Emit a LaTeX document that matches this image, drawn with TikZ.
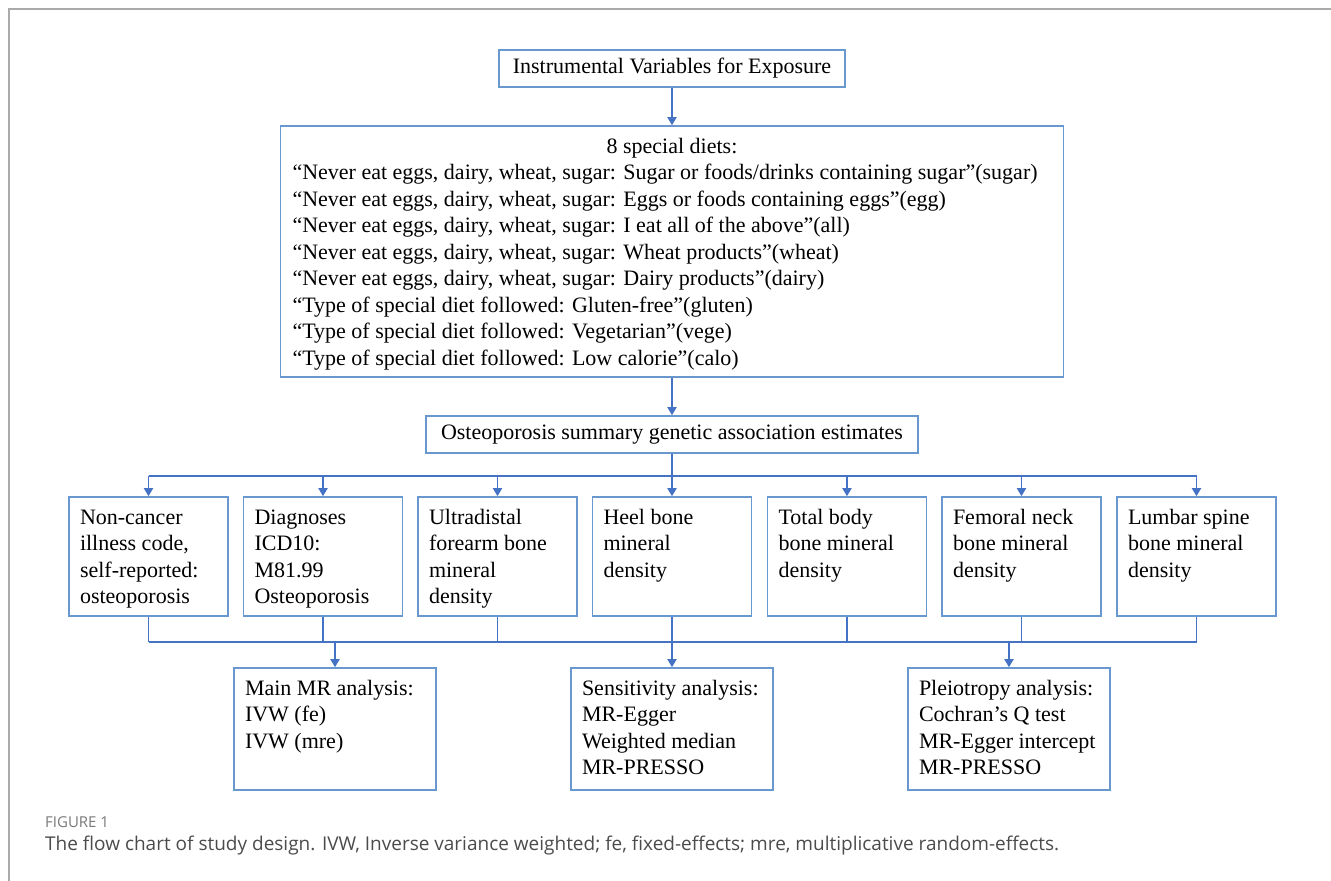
\documentclass[tikz,border=0pt]{standalone}
\usepackage{fontspec}
\setmainfont{Liberation Serif}
\newfontfamily\capfont{Open Sans}
\usepackage{tikz}
\usetikzlibrary{graphs}
\usetikzlibrary{arrows.meta}
\usepackage{xcolor}
\definecolor{boxblue}{RGB}{104,152,206}
\definecolor{lineblue}{RGB}{68,114,196}
\definecolor{framegray}{RGB}{170,170,170}
\definecolor{capgray}{RGB}{120,120,120}
\definecolor{captext}{RGB}{75,75,75}
\newcommand{\boxfont}{\fontsize{22}{26.5}\selectfont}
\newcommand{\boxtext}[3]{\parbox[c][#2][t]{#1}{\raggedright\strut#3}}

\begin{document}
\begin{tikzpicture}[x=1pt, y=-1pt,
    box/.style={draw=boxblue, line width=1.6pt, font=\boxfont, inner xsep=11pt, inner ysep=8.5pt},
    plainbox/.style={draw=boxblue, line width=1.6pt, font=\boxfont, inner sep=0pt},
    link/.style={draw=lineblue, line width=1.8pt},
    arr/.style={link, -{Triangle[length=8pt,width=9pt]}}]
            \useasboundingbox (0,0) rectangle (1331,881);
            \draw[framegray, line width=2pt] (9,881) -- (9,9) -- (1331,9);

            \node[plainbox, minimum width=346pt, minimum height=37pt] (iv) at (672, 68.5) {Instrumental Variables for Exposure};
            \node[box, inner xsep=12pt] (diets) at (672, 251.5) {\boxtext{759pt}{234pt}{\makebox[\linewidth]{8 special diets:}\\
                “Never eat eggs, dairy, wheat, sugar: Sugar or foods/drinks containing sugar”(sugar)\\
                “Never eat eggs, dairy, wheat, sugar: Eggs or foods containing eggs”(egg)\\
                “Never eat eggs, dairy, wheat, sugar: I eat all of the above”(all)\\
                “Never eat eggs, dairy, wheat, sugar: Wheat products”(wheat)\\
                “Never eat eggs, dairy, wheat, sugar: Dairy products”(dairy)\\
                “Type of special diet followed: Gluten-free”(gluten)\\
                “Type of special diet followed: Vegetarian”(vege)\\
                “Type of special diet followed: Low calorie”(calo)}};
            \node[plainbox, minimum width=492pt, minimum height=37pt] (osteo) at (672, 434.5) {Osteoporosis summary genetic association estimates};

            \node[box] (nc) at (148.5, 556.5) {\boxtext{137pt}{102pt}{Non-cancer\\ illness code,\\ self-reported:\\ osteoporosis}};
            \node[box] (icd) at (323, 556.5) {\boxtext{137pt}{102pt}{Diagnoses\\ ICD10:\\ M81.99\\ Osteoporosis}};
            \node[box] (ultra) at (497.5, 556.5) {\boxtext{137pt}{102pt}{Ultradistal\\ forearm bone\\ mineral\\ density}};
            \node[box] (heel) at (672, 556.5) {\boxtext{137pt}{102pt}{Heel bone\\ mineral\\ density}};
            \node[box] (total) at (847, 556.5) {\boxtext{137pt}{102pt}{Total body\\ bone mineral\\ density}};
            \node[box] (femoral) at (1021.5, 556.5) {\boxtext{137pt}{102pt}{Femoral neck\\ bone mineral\\ density}};
            \node[box] (lumbar) at (1196.5, 556.5) {\boxtext{137pt}{102pt}{Lumbar spine\\ bone mineral\\ density}};

            \node[box] (main) at (335, 729) {\boxtext{180pt}{105pt}{Main MR analysis:\\ IVW (fe)\\ IVW (mre)}};
            \node[box] (sens) at (672, 729) {\boxtext{180pt}{105pt}{Sensitivity analysis:\\ MR-Egger\\ Weighted median\\ MR-PRESSO}};
            \node[box] (pleio) at (1009, 729) {\boxtext{180pt}{105pt}{Pleiotropy analysis:\\ Cochran’s Q test\\ MR-Egger intercept\\ MR-PRESSO}};

            \node[anchor=west, inner sep=0pt, text=capgray, font=\capfont\fontsize{15}{18}\selectfont] (figno) at (45, 822) {FIGURE 1};
            \node[anchor=west, inner sep=0pt, text=captext, font=\capfont\fontsize{19}{22}\selectfont] (caption) at (45, 846) {The flow chart of study design. IVW, Inverse variance weighted; fe, fixed-effects; mre, multiplicative random-effects.};

            \coordinate (t1) at (148.5, 476);
            \coordinate (t2) at (323, 476);
            \coordinate (t3) at (497.5, 476);
            \coordinate (t5) at (847, 476);
            \coordinate (t6) at (1021.5, 476);
            \coordinate (t7) at (1196.5, 476);
            \coordinate (b1) at (148.5, 642);
            \coordinate (b2) at (323, 642);
            \coordinate (b3) at (497.5, 642);
            \coordinate (bm) at (335, 642);
            \coordinate (b5) at (847, 642);
            \coordinate (bp) at (1009, 642);
            \coordinate (b6) at (1021.5, 642);
            \coordinate (b7) at (1196.5, 642);

            \graph {(iv) --[arr] (diets)};
            \graph {(diets) --[arr] (osteo)};
            \graph {(osteo) --[arr] (heel)};
            \graph {(t1) --[link] (t7)};
            \graph {(t1) --[arr] (nc)};
            \graph {(t2) --[arr] (icd)};
            \graph {(t3) --[arr] (ultra)};
            \graph {(t5) --[arr] (total)};
            \graph {(t6) --[arr] (femoral)};
            \graph {(t7) --[arr] (lumbar)};
            \graph {(nc) --[link] (b1)};
            \graph {(icd) --[link] (b2)};
            \graph {(ultra) --[link] (b3)};
            \graph {(total) --[link] (b5)};
            \graph {(femoral) --[link] (b6)};
            \graph {(lumbar) --[link] (b7)};
            \graph {(b1) --[link] (b7)};
            \graph {(bm) --[arr] (main)};
            \graph {(heel) --[arr] (sens)};
            \graph {(bp) --[arr] (pleio)};
        \end{tikzpicture}
\end{document}
